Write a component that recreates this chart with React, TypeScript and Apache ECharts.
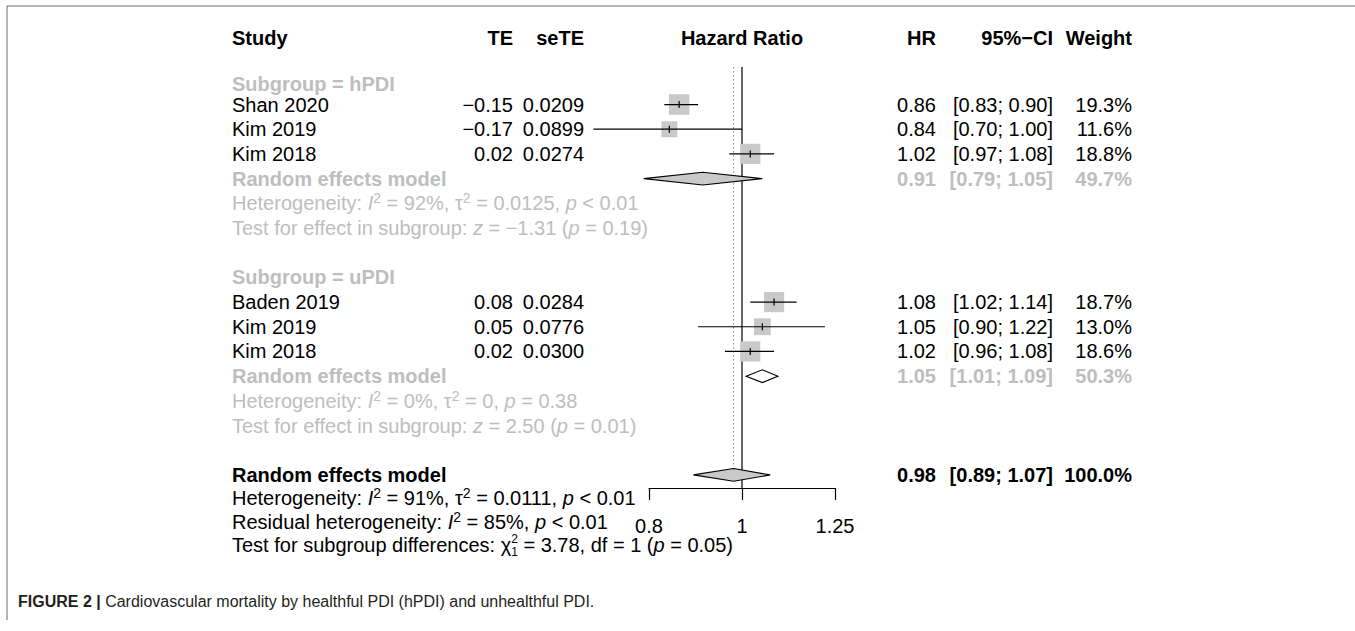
import React, { useEffect, useRef } from 'react';
import * as echarts from 'echarts';

// ---------------- data ----------------
const studyNames = ['Shan 2020', 'Kim 2019', 'Kim 2018', 'Baden 2019', 'Kim 2019', 'Kim 2018'];
const teValues = [-0.15, -0.17, 0.02, 0.08, 0.05, 0.02];
const seTeValues = [0.0209, 0.0899, 0.0274, 0.0284, 0.0776, 0.03];
const hrValues = [0.86, 0.84, 1.02, 1.08, 1.05, 1.02];
const lowerValues = [0.83, 0.7, 0.97, 1.02, 0.9, 0.96];
const upperValues = [0.9, 1.0, 1.08, 1.14, 1.22, 1.08];
const weightValues = [19.3, 11.6, 18.8, 18.7, 13.0, 18.6];

const subgroupNames = ['hPDI', 'uPDI'];
// pooled estimates: hPDI, uPDI, overall
const pooledHr = [0.91, 1.05, 0.98];
const pooledLower = [0.79, 1.01, 0.89];
const pooledUpper = [1.05, 1.09, 1.07];
const pooledWeight = [49.7, 50.3, 100.0];

const hetI2 = [92, 0, 91];
const hetTau2 = ['0.0125', '0', '0.0111'];
const hetP = ['< 0.01', '= 0.38', '< 0.01'];
const effectZ = [-1.31, 2.5];
const effectP = ['0.19', '0.01'];
const residualI2 = 85;
const residualP = '< 0.01';
const chi2Value = 3.78;
const chi2Df = 1;
const chi2P = '0.05';

const axisTicks = [0.8, 1, 1.25];

// ---------------- layout ----------------
const ROW_STUDY = [0, 1, 2, 8, 9, 10];
const ROW_SUBGROUP = [-0.85, 7];
const ROW_POOLED = [3, 11, 15];
const ROW_HET = [4, 12, 15.95];
const ROW_EFFECT = [5, 13];
const ROW_RESID = 16.9;
const ROW_DIFF = 17.85;
const ROW_HEADER = -2.7;
const Y_MIN = -1.52;
const Y_MAX = 15.53;

const FONT = "'Liberation Sans', Arial, Helvetica, sans-serif";
const BLACK = '#000000';
const GRAY = '#bebebe';
const SQUARE_FILL = '#c9c9c9';

const COL_STUDY = 232;
const COL_TE = 513;
const COL_SETE = 584;
const COL_PLOT = 742;
const COL_HR = 936;
const COL_CI = 1053;
const COL_W = 1132;

type Seg = { t: string; it?: boolean; sup?: boolean; sub?: boolean; stay?: boolean; small?: boolean };
type TextItem = { row: number; x: number; align: 'left' | 'right' | 'center'; segs: Seg[]; bold?: boolean; color: string };

const minus = (v: number, d: number) => (v < 0 ? '\u2212' + Math.abs(v).toFixed(d) : v.toFixed(d));
const ci = (l: number, u: number) => `[${l.toFixed(2)}; ${u.toFixed(2)}]`;

let measureCtx: CanvasRenderingContext2D | null = null;
function measure(t: string, size: number, bold?: boolean, italic?: boolean) {
  if (!measureCtx) measureCtx = document.createElement('canvas').getContext('2d');
  const ctx = measureCtx!;
  ctx.font = `${italic ? 'italic ' : ''}${bold ? 'bold ' : ''}${size}px ${FONT}`;
  return ctx.measureText(t).width;
}

function buildTextItems(): TextItem[] {
  const items: TextItem[] = [];
  const one = (row: number, x: number, align: TextItem['align'], t: string, color: string, bold?: boolean) =>
    items.push({ row, x, align, segs: [{ t }], color, bold });

  one(ROW_HEADER, COL_STUDY, 'left', 'Study', BLACK, true);
  one(ROW_HEADER, COL_TE, 'right', 'TE', BLACK, true);
  one(ROW_HEADER, COL_SETE, 'right', 'seTE', BLACK, true);
  one(ROW_HEADER, COL_PLOT, 'center', 'Hazard Ratio', BLACK, true);
  one(ROW_HEADER, COL_HR, 'right', 'HR', BLACK, true);
  one(ROW_HEADER, COL_CI, 'right', '95%\u2212CI', BLACK, true);
  one(ROW_HEADER, COL_W, 'right', 'Weight', BLACK, true);

  subgroupNames.forEach((g, k) => one(ROW_SUBGROUP[k], COL_STUDY, 'left', `Subgroup = ${g}`, GRAY, true));

  studyNames.forEach((n, i) => {
    const r = ROW_STUDY[i];
    one(r, COL_STUDY, 'left', n, BLACK);
    one(r, COL_TE, 'right', minus(teValues[i], 2), BLACK);
    one(r, COL_SETE, 'right', seTeValues[i].toFixed(4), BLACK);
    one(r, COL_HR, 'right', hrValues[i].toFixed(2), BLACK);
    one(r, COL_CI, 'right', ci(lowerValues[i], upperValues[i]), BLACK);
    one(r, COL_W, 'right', weightValues[i].toFixed(1) + '%', BLACK);
  });

  pooledHr.forEach((h, k) => {
    const r = ROW_POOLED[k];
    const c = k < 2 ? GRAY : BLACK;
    one(r, COL_STUDY, 'left', 'Random effects model', c, true);
    one(r, COL_HR, 'right', h.toFixed(2), c, true);
    one(r, COL_CI, 'right', ci(pooledLower[k], pooledUpper[k]), c, true);
    one(r, COL_W, 'right', pooledWeight[k].toFixed(1) + '%', c, true);
  });

  hetI2.forEach((i2, k) => {
    items.push({
      row: ROW_HET[k], x: COL_STUDY, align: 'left', color: k < 2 ? GRAY : BLACK,
      segs: [
        { t: 'Heterogeneity: ' }, { t: 'I', it: true }, { t: '2', sup: true }, { t: ` = ${i2}%, ` },
        { t: '\u03c4' }, { t: '2', sup: true }, { t: ` = ${hetTau2[k]}, ` }, { t: 'p', it: true }, { t: ` ${hetP[k]}` },
      ],
    });
  });
  effectZ.forEach((z, k) => {
    items.push({
      row: ROW_EFFECT[k], x: COL_STUDY, align: 'left', color: GRAY,
      segs: [
        { t: 'Test for effect in subgroup: ' }, { t: 'z', it: true }, { t: ` = ${minus(z, 2)} (` },
        { t: 'p', it: true }, { t: ` = ${effectP[k]})` },
      ],
    });
  });
  items.push({
    row: ROW_RESID, x: COL_STUDY, align: 'left', color: BLACK,
    segs: [
      { t: 'Residual heterogeneity: ' }, { t: 'I', it: true }, { t: '2', sup: true }, { t: ` = ${residualI2}%, ` },
      { t: 'p', it: true }, { t: ` ${residualP}` },
    ],
  });
  items.push({
    row: ROW_DIFF, x: COL_STUDY, align: 'left', color: BLACK,
    segs: [
      { t: 'Test for subgroup differences: ' }, { t: '\u03c7' },
      { t: '2', sup: true, stay: true, small: true }, { t: String(chi2Df), sub: true, small: true },
      { t: ` = ${chi2Value.toFixed(2)}, df = ${chi2Df} (` }, { t: 'p', it: true }, { t: ` = ${chi2P})` },
    ],
  });
  return items;
}

export default function App() {
  const ref = useRef<HTMLDivElement>(null);
  useEffect(() => {
    if (!ref.current) return;
    const chart = echarts.init(ref.current, undefined, { renderer: 'svg' });
    const textItems = buildTextItems();

    const studyData = hrValues.map((h, i) => [
      Math.log(h), ROW_STUDY[i], Math.log(lowerValues[i]), Math.log(upperValues[i]), weightValues[i],
    ]);
    const diamondData = pooledHr.map((h, k) => [
      Math.log(h), ROW_POOLED[k], Math.log(pooledLower[k]), Math.log(pooledUpper[k]),
    ]);
    const refData = [
      [0, Y_MIN, Y_MAX],
      [Math.log(pooledHr[2]), Y_MIN, 14.68],
    ];

    chart.setOption({
      animation: false,
      backgroundColor: '#ffffff',
      grid: { left: 649, width: 186, top: 67, height: 421, containLabel: false },
      xAxis: {
        type: 'value',
        position: 'bottom',
        min: Math.log(axisTicks[0]),
        max: Math.log(axisTicks[2]),
        axisLine: { show: true, onZero: false, lineStyle: { color: '#000', width: 1.2 } },
        axisTick: {
          show: true, length: 12, inside: false,
          customValues: axisTicks.map((v) => Math.log(v)),
          lineStyle: { color: '#000', width: 1.2 },
        },
        axisLabel: {
          show: true,
          customValues: axisTicks.map((v) => Math.log(v)),
          formatter: (v: number) => String(Math.round(Math.exp(v) * 100) / 100),
          fontSize: 20, fontFamily: FONT, color: '#000', margin: 28,
        },
        splitLine: { show: false },
      },
      yAxis: { type: 'value', min: Y_MIN, max: Y_MAX, inverse: true, show: false },
      series: [
        {
          type: 'custom', name: 'ref', silent: true, data: refData, z: 1,
          renderItem: (params: any, api: any) => {
            const a = api.coord([api.value(0), api.value(1)]);
            const b = api.coord([api.value(0), api.value(2)]);
            const dotted = params.dataIndex === 1;
            return {
              type: 'line',
              shape: { x1: a[0], y1: a[1], x2: b[0], y2: b[1] },
              style: dotted
                ? { stroke: '#8a8a8a', lineWidth: 1, lineDash: [1.5, 2.5] }
                : { stroke: '#000', lineWidth: 1.2 },
            };
          },
        },
        {
          type: 'custom', name: 'studies', silent: true, data: studyData, z: 3,
          renderItem: (params: any, api: any) => {
            const row = api.value(1);
            const c = api.coord([api.value(0), row]);
            const l = api.coord([api.value(2), row]);
            const u = api.coord([api.value(3), row]);
            const side = 4.67 * Math.sqrt(api.value(4));
            return {
              type: 'group',
              children: [
                { type: 'rect', shape: { x: c[0] - side / 2, y: c[1] - side / 2, width: side, height: side }, style: { fill: SQUARE_FILL } },
                { type: 'line', shape: { x1: l[0], y1: c[1], x2: u[0], y2: c[1] }, style: { stroke: '#000', lineWidth: 1.2 } },
                { type: 'line', shape: { x1: c[0], y1: c[1] - 3.5, x2: c[0], y2: c[1] + 3.5 }, style: { stroke: '#000', lineWidth: 1.2 } },
              ],
            };
          },
        },
        {
          type: 'custom', name: 'diamonds', silent: true, data: diamondData, z: 4,
          renderItem: (params: any, api: any) => {
            const row = api.value(1);
            const c = api.coord([api.value(0), row]);
            const l = api.coord([api.value(2), row]);
            const u = api.coord([api.value(3), row]);
            const h = 6.4;
            return {
              type: 'polygon',
              shape: { points: [[l[0], c[1]], [c[0], c[1] - h], [u[0], c[1]], [c[0], c[1] + h]] },
              style: { fill: params.dataIndex === 1 ? '#ffffff' : SQUARE_FILL, stroke: '#000', lineWidth: 1.1 },
            };
          },
        },
        {
          type: 'custom', name: 'table', silent: true, z: 5,
          data: textItems.map((t, i) => [0, t.row, i]),
          renderItem: (params: any, api: any) => {
            const item = textItems[api.value(2)];
            const y = api.coord([0, item.row])[1];
            const children: any[] = [];
            let x = item.x;
            item.segs.forEach((seg) => {
              const fs = seg.small ? 12 : seg.sup || seg.sub ? 14 : 20;
              const dy = seg.sup ? (seg.small ? -6 : -5) : seg.sub ? 7 : 0;
              const lead = (seg.t.match(/^\s*/) as RegExpMatchArray)[0];
              const body = seg.t.slice(lead.length);
              const leadW = lead ? measure(lead, fs, item.bold, seg.it) : 0;
              children.push({
                type: 'text',
                x: x + (item.align === 'left' ? leadW : 0),
                y: y + dy,
                style: {
                  text: item.align === 'left' ? body : seg.t.trim(),
                  fontSize: fs, fontFamily: FONT,
                  fontWeight: item.bold ? 'bold' : 'normal',
                  fontStyle: seg.it ? 'italic' : 'normal',
                  fill: item.color, align: item.align, verticalAlign: 'middle',
                },
              });
              if (!seg.stay) x += measure(seg.t, fs, item.bold, seg.it);
            });
            return { type: 'group', children };
          },
        },
      ],
      graphic: [
        { type: 'line', shape: { x1: 7, y1: 6, x2: 1355, y2: 6 }, style: { stroke: '#6b6b6b', lineWidth: 1 }, silent: true },
        { type: 'line', shape: { x1: 7, y1: 6, x2: 7, y2: 620 }, style: { stroke: '#6b6b6b', lineWidth: 1 }, silent: true },
        {
          type: 'text', left: 18, top: 593, silent: true,
          style: {
            text: '{b|FIGURE 2 |} Cardiovascular mortality by healthful PDI (hPDI) and unhealthful PDI.',
            fontSize: 16, fontFamily: FONT, fill: '#231f20',
            rich: { b: { fontWeight: 'bold', fontSize: 16, fontFamily: FONT, fill: '#231f20' } },
          },
        },
      ],
    });
    return () => chart.dispose();
  }, []);
  return <div ref={ref} style={{ position: 'absolute', left: 0, top: 0, width: 1355, height: 631 }} />;
}
